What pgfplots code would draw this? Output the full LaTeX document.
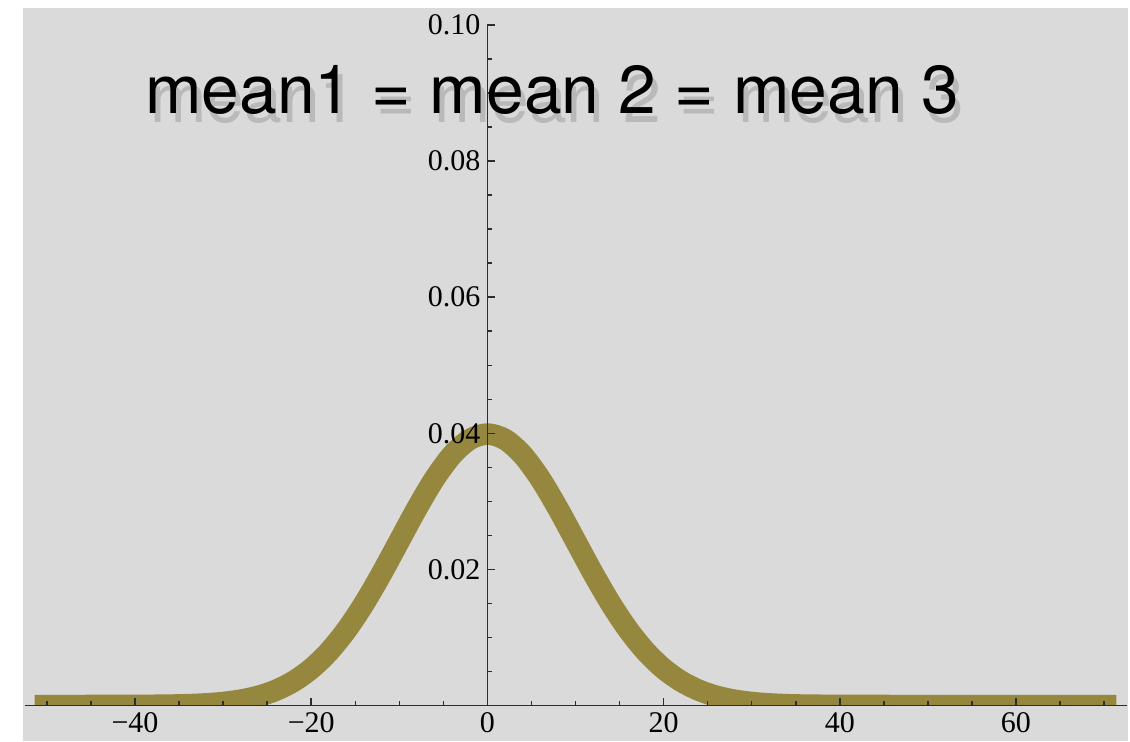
\documentclass[border=0pt]{standalone}
\usepackage{pgfplots}
\pgfplotsset{compat=1.18}
\usepackage{fontspec}
\setmainfont{Liberation Serif}
\newfontfamily\titlefont{TeX Gyre Heros}
\definecolor{bg}{RGB}{218,218,218}
\definecolor{curve}{RGB}{150,135,62}
\definecolor{axisc}{RGB}{45,45,45}
\definecolor{shadowc}{RGB}{180,180,180}
\begin{document}
\begin{tikzpicture}
\path[use as bounding box] (0,0) rectangle (565pt,370.5pt);
\clip (0,0) rectangle (565pt,370.5pt);
\fill[bg] (11.5pt,0) rectangle (564pt,366.5pt);
\begin{axis}[
  at={(12.5pt,17.75pt)}, anchor=south west,
  scale only axis, width=551pt, height=340.25pt,
  xmin=-52.49, xmax=72.6, ymin=0, ymax=0.1,
  axis lines=middle,
  axis line style={-, draw=axisc, line width=0.7pt},
  axis on top,
  xtick={-40,-20,0,20,40,60},
  xticklabels={−40,−20,0,20,40,60},
  minor xtick={-50,-45,-35,-30,-25,-15,-10,-5,5,10,15,25,30,35,45,50,55,65,70},
  ytick={0.02,0.04,0.06,0.08,0.1},
  yticklabels={0.02,0.04,0.06,0.08,0.10},
  minor ytick={0.005,0.01,0.015,0.025,0.03,0.035,0.045,0.05,0.055,0.065,0.07,0.075,0.085,0.09,0.095},
  hide obscured x ticks=false, hide obscured y ticks=false,
  tick align=inside,
  major tick length=4pt, minor tick length=2.2pt,
  major tick style={draw=axisc, line width=0.8pt},
  minor tick style={draw=axisc, line width=0.75pt},
  ticklabel style={font=\fontsize{15pt}{18pt}\selectfont, text=black},
  scaled y ticks=false,
]
\addplot[curve, line width=10.75pt, smooth, line join=round] coordinates {
(-51.4,0) (-50,0) (-45,0.0000016) (-40,0.0000134) (-35,0.000087) (-32,0.000238)
(-30,0.000443) (-28,0.000792) (-26,0.001358) (-24,0.002239) (-22,0.003547)
(-20,0.005399) (-18,0.007895) (-16,0.011092) (-14,0.014973) (-12,0.019419)
(-10,0.024197) (-8,0.028969) (-6,0.033322) (-4,0.036827) (-2,0.039104)
(0,0.039894)
(2,0.039104) (4,0.036827) (6,0.033322) (8,0.028969) (10,0.024197)
(12,0.019419) (14,0.014973) (16,0.011092) (18,0.007895) (20,0.005399)
(22,0.003547) (24,0.002239) (26,0.001358) (28,0.000792) (30,0.000443)
(32,0.000238) (35,0.000087) (40,0.0000134) (45,0.0000016) (50,0) (55,0)
(60,0) (65,0) (71.4,0)
};
\end{axis}
\node[anchor=base west, inner sep=0, text=shadowc, opacity=0.85]
  at (75pt,309pt)
  {\titlefont\fontsize{33.9pt}{40pt}\selectfont mean1 = mean 2 = mean 3};
\node[anchor=base west, inner sep=0, text=black] at (72.5pt,314pt)
  {\titlefont\fontsize{33.9pt}{40pt}\selectfont mean1 = mean 2 = mean 3};
\end{tikzpicture}
\end{document}
